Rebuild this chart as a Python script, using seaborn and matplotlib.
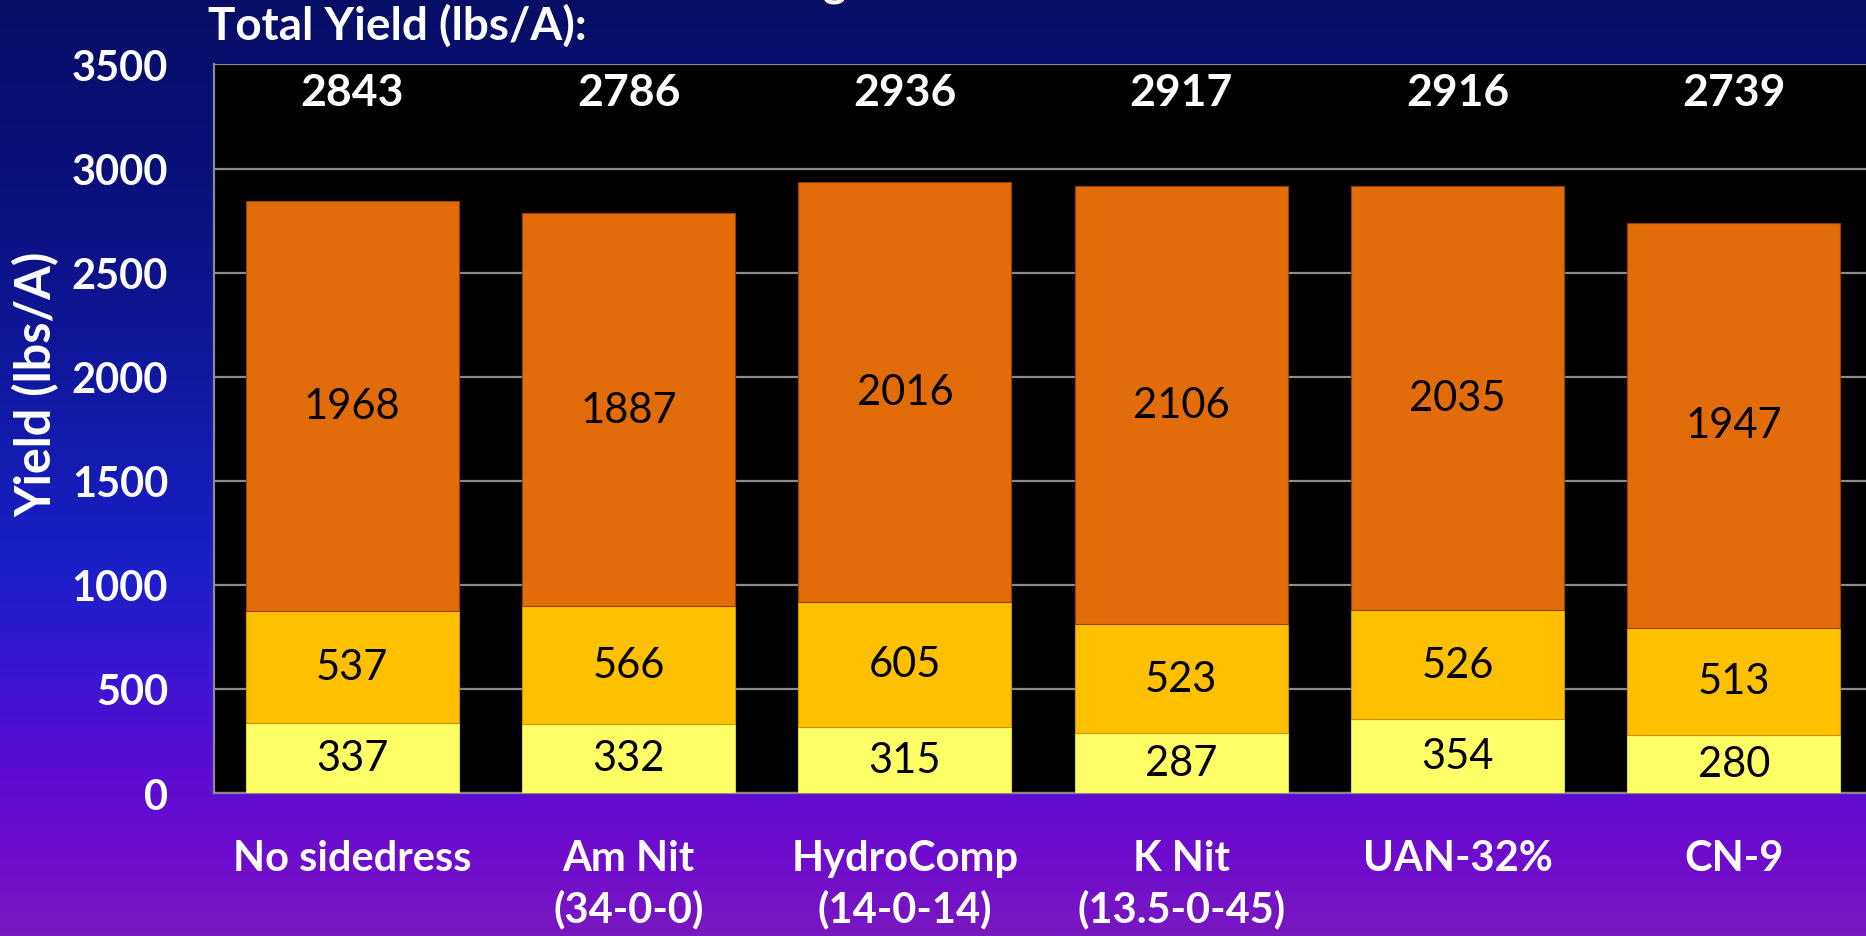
import numpy as np
import pandas as pd
import matplotlib
matplotlib.use("Agg")
import matplotlib.pyplot as plt
from matplotlib.colors import LinearSegmentedColormap
import seaborn as sns

# values
treatments = ["No sidedress", "Am Nit\n(34-0-0)", "HydroComp\n(14-0-14)",
              "K Nit\n(13.5-0-45)", "UAN-32%", "CN-9"]
yield_low = [337, 332, 315, 287, 354, 280]
yield_mid = [537, 566, 605, 523, 526, 513]
yield_high = [1968, 1887, 2016, 2106, 2035, 1947]
total_yield = [2843, 2786, 2936, 2917, 2916, 2739]
y_ticks = [0, 500, 1000, 1500, 2000, 2500, 3000, 3500]

sns.set_style("white")
plt.rcParams['font.family'] = ['Lato', 'DejaVu Sans']

df = pd.DataFrame({"treatment": treatments, "low": yield_low,
                   "mid": yield_mid, "high": yield_high})
df["base_mid"] = df["low"]
df["base_high"] = df["low"] + df["mid"]

fig = plt.figure(figsize=(18.66, 9.37), dpi=100)

# slide background gradient (navy -> blue -> purple)
bg = fig.add_axes([0, 0, 1, 1])
bg_cmap = LinearSegmentedColormap.from_list(
    "slide", [(0.0, "#7818c0"), (0.08, "#700ccc"), (0.18, "#5a0cd2"),
              (0.28, "#3a16d0"), (0.40, "#1a20c6"), (0.62, "#0f179a"),
              (0.82, "#0a1078"), (1.0, "#080e66")])
grad = np.linspace(0, 1, 256).reshape(-1, 1)
bg.imshow(grad, aspect="auto", cmap=bg_cmap, origin="lower", extent=[0, 1, 0, 1])
bg.axis("off")

ax = fig.add_axes([0.1147, 0.1526, 0.8885, 0.7775])
ax.set_facecolor("black")

layers = [("low", None, "#ffff66", "#d6d64a"),
          ("mid", "base_mid", "#ffc000", "#c89400"),
          ("high", "base_high", "#e36c0a", "#9a4000")]
for col, base, fill, edge in layers:
    kw = {} if base is None else {"bottom": df[base]}
    sns.barplot(data=df, x="treatment", y=col, order=treatments, color=fill,
                saturation=1, width=0.77, errorbar=None, edgecolor=edge,
                linewidth=0.8, zorder=3, ax=ax, **kw)

# segment labels
for i in range(len(treatments)):
    for col, base in [("low", None), ("mid", "base_mid"), ("high", "base_high")]:
        b = 0 if base is None else df[base][i]
        ax.text(i, b + df[col][i] / 2, str(df[col][i]), ha="center", va="center",
                fontsize=30, color="black", zorder=5)
    ax.text(i, 3370, str(total_yield[i]), ha="center", va="center",
            fontsize=32, fontweight="bold", color="white", zorder=5)

ax.set_ylim(0, 3500)
ax.set_yticks(y_ticks)
ax.set_xlim(-0.5, len(treatments) - 0.5)
ax.yaxis.grid(True, color="#8a8a8a", linewidth=1.6, zorder=0)
ax.set_axisbelow(True)

for side in ["top", "right"]:
    ax.spines[side].set_visible(False)
for side in ["left", "bottom"]:
    ax.spines[side].set_color("#8a8a8a")
    ax.spines[side].set_linewidth(1.6)

ax.tick_params(axis="y", length=11, width=1.6, color="#8a8a8a", pad=22,
               labelsize=30, labelcolor="white")
for lbl in ax.get_yticklabels():
    lbl.set_fontweight("bold")

ax.set_xticks(range(len(treatments)))
ax.set_xticklabels(treatments, fontsize=30, fontweight="bold", color="white",
                   linespacing=1.35, va="top")
ax.tick_params(axis="x", length=0, pad=33)
ax.set_xticks(np.arange(-0.5, len(treatments)), minor=True)
ax.tick_params(axis="x", which="minor", length=10, width=1.6, color="#8a8a8a")

ax.set_xlabel("")
ax.set_ylabel("")
fig.text(36 / 1866, 1 - 384 / 937, "Yield (lbs/A)", rotation=90, ha="center",
         va="center", fontsize=35, fontweight="bold", color="white")

fig.text(0.1116, 0.972, "Total Yield (lbs/A):", ha="left", va="center",
         fontsize=33, fontweight="bold", color="white")
# bottom of the slide title, cut off by the crop
fig.text(0.4475, 1.0 + 3 / 937, "g", ha="center", va="baseline",
         fontsize=32, fontweight="bold", color="white")

fig.savefig("out.png", dpi=100, facecolor="#080e66")
